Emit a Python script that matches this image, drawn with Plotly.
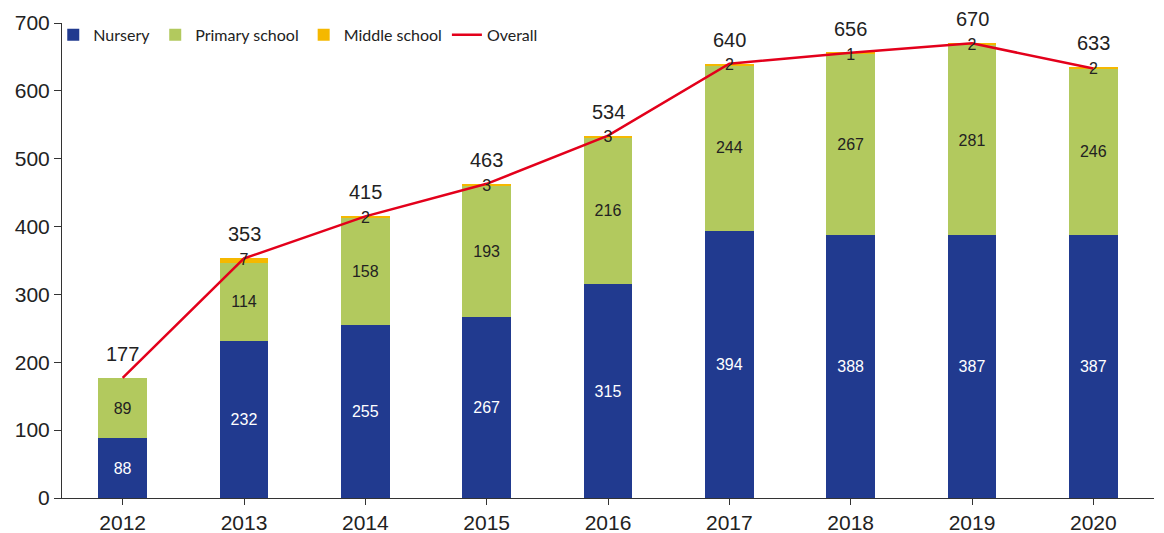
import plotly.graph_objects as go

years = ["2012", "2013", "2014", "2015", "2016", "2017", "2018", "2019", "2020"]
nursery = [88, 232, 255, 267, 315, 394, 388, 387, 387]
primary = [89, 114, 158, 193, 216, 244, 267, 281, 246]
middle = [0, 7, 2, 3, 3, 2, 1, 2, 2]
overall = [177, 353, 415, 463, 534, 640, 656, 670, 633]
middle_labels = ["", "7", "2", "3", "3", "2", "1", "2", "2"]

c_nur = "#213a8f"
c_pri = "#b2c95e"
c_mid = "#f5b800"
c_line = "#e3001b"
tickfont = dict(family="Liberation Sans, Arial", size=21, color="#222")

fig = go.Figure()
fig.add_bar(x=years, y=nursery, name="Nursery", marker=dict(color=c_nur, line_width=0),
            text=[str(v) for v in nursery], textposition="inside", insidetextanchor="middle",
            textfont=dict(family="Liberation Sans, Arial", size=16, color="white"), width=0.4)
fig.add_bar(x=years, y=primary, name="Primary school", marker=dict(color=c_pri, line_width=0),
            text=[str(v) for v in primary], textposition="inside", insidetextanchor="middle",
            textfont=dict(family="Liberation Sans, Arial", size=16, color="#222"), width=0.4)
fig.add_bar(x=years, y=middle, name="Middle school", marker=dict(color=c_mid, line_width=0),
            width=0.4, hoverinfo="skip")
fig.add_scatter(x=years, y=overall, name="Overall", mode="lines",
                line=dict(color=c_line, width=2.5))
# middle school labels at bar tops
tops = [n + p + m for n, p, m in zip(nursery, primary, middle)]
fig.add_scatter(x=years, y=[t - 4 for t in tops], mode="text", text=middle_labels,
                textposition="middle center", showlegend=False,
                textfont=dict(family="Liberation Sans, Arial", size=16, color="#222"))

for i, (tot, top) in enumerate(zip(overall, tops)):
    fig.add_annotation(x=i, y=max(tot, top), text=str(tot), showarrow=False,
                       yshift=24, font=dict(family="Liberation Sans, Arial", size=20, color="#222"))

fig.update_layout(
    barmode="stack",
    width=1156, height=525,
    margin=dict(l=54, r=10, t=15, b=35, autoexpand=False),
    plot_bgcolor="white", paper_bgcolor="white",
    legend=dict(orientation="h", x=-0.008, y=0.975, xanchor="left", yanchor="middle",
                traceorder="normal",
                font=dict(family="Lato, Noto Sans", size=16, color="#222"),
                bgcolor="rgba(0,0,0,0)", itemwidth=30, tracegroupgap=0),
    xaxis=dict(type="category", showline=True, linecolor="#333", linewidth=1, ticks="outside",
               ticklen=6, tickcolor="#333", tickfont=tickfont, showgrid=False),
    yaxis=dict(range=[0, 700], dtick=100, showline=True, linecolor="#333", linewidth=1,
               ticks="outside", ticklen=7, tickcolor="#333", tickfont=tickfont,
               showgrid=False, zeroline=False),
)
fig.write_html("out.html")
